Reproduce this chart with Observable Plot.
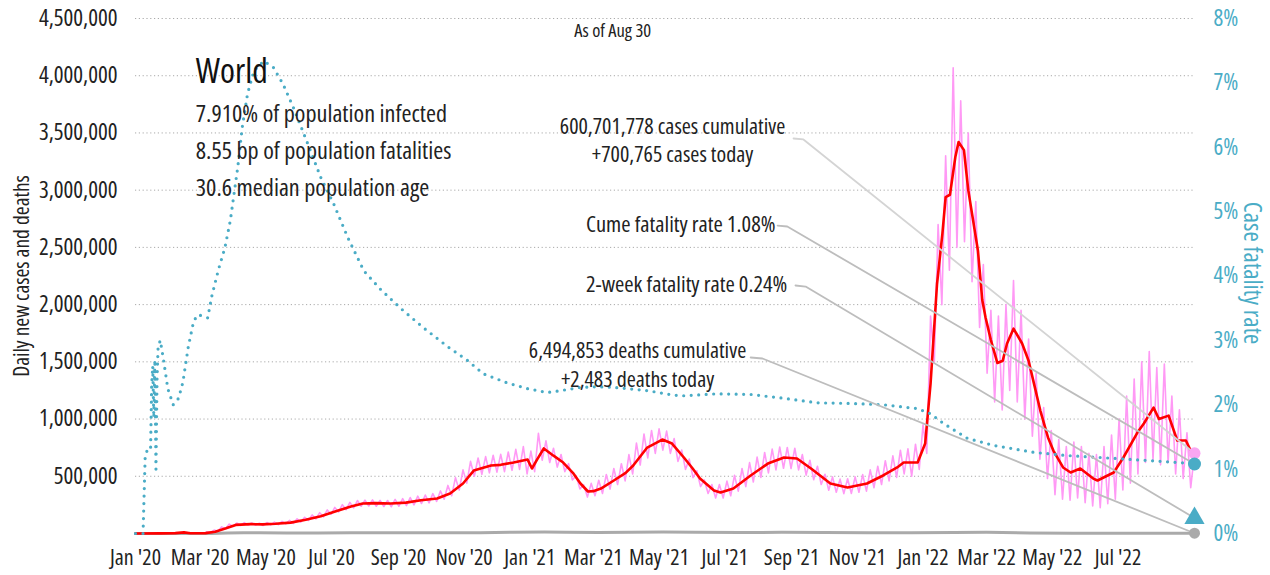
<!DOCTYPE html>
<html><head><meta charset="utf-8">
<script src="https://cdn.jsdelivr.net/npm/d3@7"></script>
<script src="https://cdn.jsdelivr.net/npm/@observablehq/plot@0.6"></script>
<style>html,body{margin:0;padding:0;background:#fff;}</style>
</head><body><div id="chart"></div>
<script>
// ---------- DATA ----------
// Day offsets are days since 2020-01-01 (UTC)
const caseAvgDays = [0,23,37,45,51,65,74,84,93,107,118,130,144,158,172,186,200,211,223,237,251,265,280,292,304,314,330,339,351,364,368,373,379,388,397,406,413,420,425,432,444,455,462,475,489,498,509,517,524,537,543,555,571,587,602,614,627,645,661,679,694,707,713,726,733,738,744,749,752,756,761,764,769,773,782,786,789,794,800,805,809,815,823,829,834,840,847,852,861,868,877,889,893,908,917,930,936,945,950,959,967,975,983];
// 7-day average daily new cases, thousands
const caseAvgK = [0,1,3,10,2,3,15,45,75,82,80,85,95,120,150,195,235,262,265,262,270,290,306,350,437,550,594,600,620,646,568,650,743,680,620,530,437,367,370,393,463,530,594,751,821,786,664,570,480,376,358,393,507,611,664,655,568,437,402,437,507,577,620,620,786,1310,2180,2620,2940,2960,3290,3420,3350,3000,2470,2040,1890,1690,1490,1510,1660,1790,1660,1510,1310,1070,839,725,577,533,568,480,463,533,664,882,961,1100,1000,1030,813,813,655];
// raw daily new cases (thousands), sampled twice a week starting day 66
const caseDailyStartDay = 66;
const caseDailyK = [
14,8, 30,20, 58,40, 82,62, 92,70, 95,74, 92,72, 90,70, 96,75, 100,78,
106,84, 114,88, 128,100, 142,114, 162,128, 182,146, 206,168, 228,188, 252,208, 272,224,
288,238, 292,240, 294,238, 290,236, 288,234, 298,238, 304,244, 314,250, 326,262, 336,268,
348,280, 372,300, 420,330, 488,380, 556,440, 630,500, 660,518, 672,530, 684,536, 692,540,
712,552, 735,560, 760,520, 720,540, 875,640, 810,620, 745,580, 690,540, 610,468, 505,390,
425,318, 438,330, 465,350, 515,388, 568,428, 610,460, 690,520, 790,598, 870,660, 900,700,
915,728, 895,700, 830,630, 730,560, 650,488, 548,410, 468,350, 428,310, 428,310, 458,330,
508,370, 568,410, 620,450, 668,490, 708,530, 738,556, 756,570, 752,568, 745,556, 690,510,
640,470, 588,428, 518,378, 495,360, 475,348, 478,350, 495,360, 515,370, 556,400, 588,428,
636,460, 678,490, 728,520, 740,500, 780,560, 950,700, 1900,1500, 2700,2000, 3300,2300, 4070,2500,
3780,2550, 3500,2200, 2900,1800, 2350,1400, 1950,1150, 1900,1080, 2000,1250, 2210,1150, 1950,1000, 1700,850,
1400,650, 1100,480, 900,340, 820,300, 760,290, 800,310, 760,270, 700,240, 690,225, 760,260,
860,300, 1000,380, 1200,440, 1350,520, 1500,620, 1590,640, 1450,600, 1480,620, 1200,520, 1080,480,
880,400, 700.765];
// daily deaths
const deathDays = [0,50,70,85,100,115,140,170,200,230,260,290,320,350,380,400,430,460,490,520,560,600,640,680,720,760,790,830,870,910,950,983];
const deathValues = [0,100,500,4000,7000,6000,4800,5000,6000,5800,5500,5800,7500,11000,13500,12000,9000,11000,13500,11000,8500,10000,8000,7000,6800,9500,10500,5000,2500,1800,2300,2483];
// case fatality rate, %
const cfrDays = [0,7,9,11,14,15,16,17,18,19,20,21,23,26,30,35,40,44,49,54,58,67,71,77,83,88,95,99,104,110,119,128,137,147,160,172,184,197,212,227,246,267,290,308,323,345,364,382,395,413,429,444,475,499,509,540,571,602,633,664,694,726,738,750,772,796,834,865,896,924,952,970,983];
const cfrPct = [0,0,1.2,1.3,1.3,2.3,2.6,1.8,2.7,1.0,2.4,2.9,3.0,2.7,2.25,2.0,2.1,2.35,2.9,3.3,3.4,3.35,3.7,4.1,4.44,4.86,5.7,6.3,6.83,7.19,7.34,7.24,6.98,6.6,6.05,5.53,5.12,4.6,4.08,3.8,3.5,3.2,2.9,2.69,2.48,2.34,2.25,2.19,2.22,2.27,2.28,2.27,2.22,2.15,2.14,2.17,2.16,2.1,2.03,2.02,2.0,1.94,1.86,1.71,1.48,1.37,1.26,1.21,1.18,1.15,1.12,1.1,1.08];

const lastDay = 983;
const casesToday = 700765, deathsToday = 2483, cumeCfr = 1.08, twoWeekCfr = 0.24;
const xTickEndMonth = "2022-08-01";
const leftTicks = [500000,1000000,1500000,2000000,2500000,3000000,3500000,4000000,4500000];
const rightTicksPct = [0,1,2,3,4,5,6,7,8];
const infoLines = ["7.910% of population infected","8.55 bp of population fatalities","30.6 median population age"];
const infoValues = [3661000, 3338000, 3015000];
// annotation anchors in data units
const annCases = {day: 498.5, lines: ["600,701,778 cases cumulative","+700,765 cases today"], values:[3555000, 3305000]};
const annDeaths = {day: 466, lines: ["6,494,853 deaths cumulative","+2,483 deaths today"], values:[1597000, 1340000]};
const annCume = {day: 594, value: 2700000, text: "Cume fatality rate 1.08%"};
const ann2wk = {day: 605, value: 2176000, text: "2-week fatality rate 0.24%"};
const leaders = [
  {id:"cases", pts:[[610.8,3451500],[620,3443000]], end: casesToday, color:"#d4d4d4"},
  {id:"cume", pts:[[596,2691000],[605,2682600]], end: "cfr", color:"#bdbdbd"},
  {id:"2wk", pts:[[612.6,2167000],[622,2158000]], end: "2wk", color:"#bdbdbd"},
  {id:"deaths", pts:[[571,1538000],[582,1529000]], end: deathsToday, color:"#bdbdbd"}
];

// ---------- helpers ----------
const START = Date.UTC(2020,0,1);
const day = d => new Date(START + d*864e5);
const YMAX = 4500000, PCTMAX = 8, CFR_SCALE = YMAX/PCTMAX;
const CYAN = "#4aacc6", PINK = "#ff99f5", RED = "#ff0000", GRAY = "#aaaaaa";
const FONT = "'Open Sans', 'Roboto Condensed', sans-serif";

const caseAvg = caseAvgDays.map((d,i)=>({date:day(d), v:caseAvgK[i]*1000}));
const caseDaily = caseDailyK.map((v,i)=>({date:day(caseDailyStartDay + i*3.5), v:v*1000}));
const deaths = deathDays.map((d,i)=>({date:day(d), v:deathValues[i]}));
const cfr = cfrDays.map((d,i)=>({date:day(d), v:cfrPct[i]*CFR_SCALE}));
const endVal = {cfr: cumeCfr*CFR_SCALE, "2wk": twoWeekCfr*CFR_SCALE};
const leaderRows = leaders.flatMap(L => [...L.pts.map(p=>({id:L.id, date:day(p[0]), v:p[1], color:L.color})), {id:L.id, date:day(lastDay), v: typeof L.end === "number" ? L.end : endVal[L.end], color:L.color}]);
const xTicks = d3.utcMonth.every(2).range(new Date(START), new Date(xTickEndMonth));
const fmtX = d => d3.utcFormat("%b '%y")(d);

const chart = Plot.plot({
  width: 1270, height: 575,
  marginLeft: 135, marginRight: 76, marginTop: 18, marginBottom: 42,
  style: {fontFamily: FONT, fontStretch: "75%", background: "#fff", overflow: "visible"},
  x: {type: "utc", domain: [day(0), day(lastDay)]},
  y: {domain: [0, YMAX]},
  marks: [
    Plot.gridY(leftTicks, {stroke: "#aaa", strokeOpacity: 1, strokeDasharray: "1.2,2.6", strokeWidth: 1}),
    Plot.axisY(leftTicks, {tickSize: 0, tickPadding: 18, tickFormat: d3.format(","), fontSize: 23, label: null, color: "#222"}),
    Plot.axisY(rightTicksPct.map(p=>p*CFR_SCALE), {anchor: "right", tickSize: 0, tickPadding: 19, tickFormat: d => Math.round(d/CFR_SCALE) + "%", fontSize: 23, label: null, color: CYAN}),
    Plot.axisX(xTicks, {tickSize: 0, tickPadding: 16, tickFormat: fmtX, fontSize: 22, label: null, color: "#222"}),
    Plot.text(["Daily new cases and deaths"], {frameAnchor: "left", textAnchor: "middle", rotate: -90, dx: -113, fontSize: 21.5, fill: "#222"}),
    Plot.text(["Case fatality rate"], {frameAnchor: "right", textAnchor: "middle", rotate: 90, dx: 57, dy: -3, fontSize: 25, fill: CYAN}),
    Plot.line(deaths, {x: "date", y: "v", stroke: GRAY, strokeWidth: 3}),
    Plot.line(caseDaily, {x: "date", y: "v", stroke: PINK, strokeWidth: 1.6}),
    Plot.line(caseAvg, {x: "date", y: "v", stroke: RED, strokeWidth: 2.6}),
    Plot.line(cfr, {x: "date", y: "v", stroke: CYAN, strokeWidth: 3.2, strokeDasharray: "0,7.5", strokeLinecap: "round"}),
    Plot.line(leaderRows, {x: "date", y: "v", z: "id", stroke: "color", strokeWidth: 1.8}),
    Plot.dot([{date: day(lastDay), v: casesToday}], {x: "date", y: "v", r: 6, fill: "#f9a6f2"}),
    Plot.dot([{date: day(lastDay), v: cumeCfr*CFR_SCALE}], {x: "date", y: "v", r: 6.5, fill: CYAN}),
    Plot.dot([{date: day(lastDay), v: twoWeekCfr*CFR_SCALE}], {x: "date", y: "v", r: 7.5, fill: CYAN, symbol: "triangle"}),
    Plot.dot([{date: day(lastDay), v: deathsToday}], {x: "date", y: "v", r: 5.5, fill: GRAY}),
    Plot.text(["As of Aug 30"], {x: day(443), y: 4386000, fontSize: 18.5, fill: "#222"}),
    Plot.text(["World"], {x: day(56), y: 4028000, textAnchor: "start", fontSize: 34, fill: "#111"}),
    Plot.text(infoLines, {x: day(56), y: (d,i)=>infoValues[i], textAnchor: "start", fontSize: 24.2, fill: "#222"}),
    Plot.text(annCases.lines, {x: day(annCases.day), y: (d,i)=>annCases.values[i], fontSize: 22, lineHeight: 1, fill: "#222"}),
    Plot.text(annDeaths.lines, {x: day(annDeaths.day), y: (d,i)=>annDeaths.values[i], fontSize: 22, lineHeight: 1, fill: "#222"}),
    Plot.text([annCume], {x: d=>day(d.day), y: "value", text: "text", textAnchor: "end", fontSize: 22.5, fill: "#222"}),
    Plot.text([ann2wk], {x: d=>day(d.day), y: "value", text: "text", textAnchor: "end", fontSize: 22.5, fill: "#222"})
  ]
});
document.getElementById("chart").appendChild(chart);
</script></body></html>
